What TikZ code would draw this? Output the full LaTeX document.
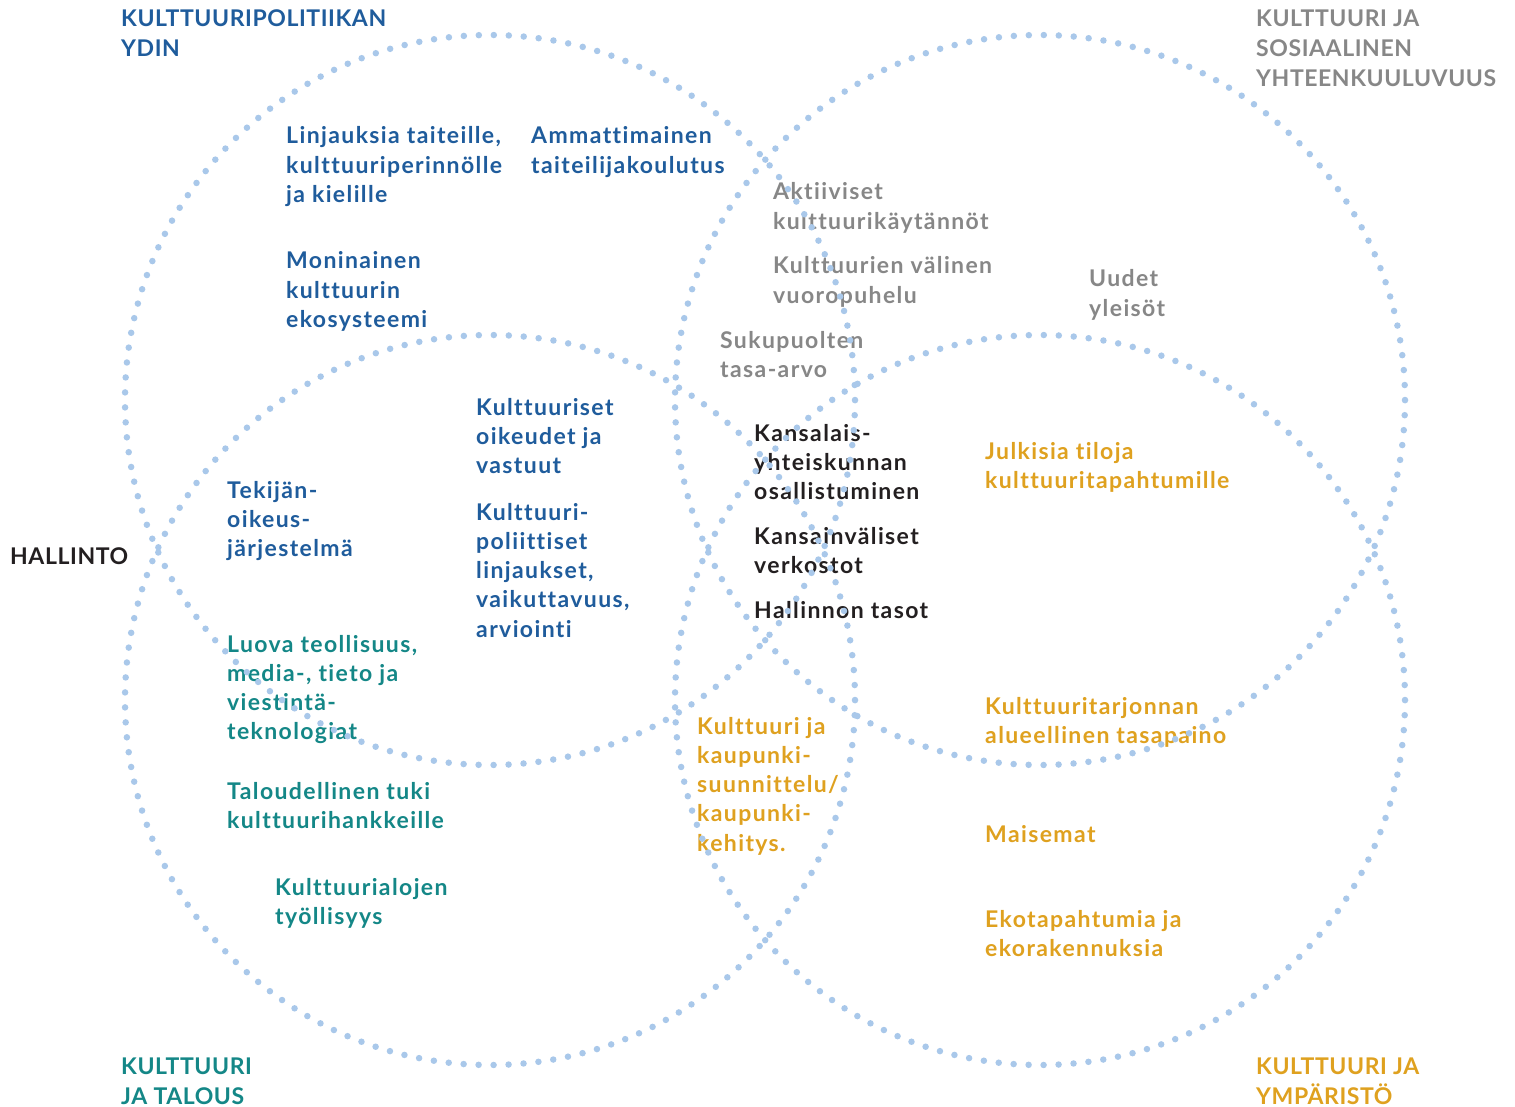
\documentclass[tikz,border=0pt]{standalone}
\usepackage{fontspec}
\setmainfont{Lato}[Ligatures=NoCommon]
\newfontfamily\bodyf{Lato}[LetterSpace=6, Ligatures=NoCommon]
\newfontfamily\hdrf{Lato}[LetterSpace=2.5, Ligatures=NoCommon]
\definecolor{cblue}{HTML}{1F5C9C}
\definecolor{cteal}{HTML}{148787}
\definecolor{corange}{HTML}{DFA11F}
\definecolor{cgray}{HTML}{878787}
\definecolor{cblack}{HTML}{231F20}
\definecolor{cdot}{HTML}{A9C8EA}
\begin{document}
\begin{tikzpicture}[x=1pt,y=-1pt,
  lbl/.style={anchor=base west, align=left, inner sep=0pt, font=\bodyf\bfseries\fontsize{23}{29.3}\selectfont},
  hdr/.style={lbl, font=\hdrf\bfseries\fontsize{23}{30}\selectfont},
  ring/.style={draw=cdot, line width=6.5pt, line cap=round, dash pattern=on 0pt off 14.99pt}]
\useasboundingbox[fill=white] (0,0) rectangle (1515,1107);
% headers (anchored at the baseline of the last line)
\node[hdr, text=cblue] (hcore) at (121,57) {KULTTUURIPOLITIIKAN\\YDIN};
\node[hdr, text=cgray] (hsoc) at (1256,87) {KULTTUURI JA\\SOSIAALINEN\\YHTEENKUULUVUUS};
\node[hdr, text=cteal] (heco) at (121,1104.5) {KULTTUURI\\JA TALOUS};
\node[hdr, text=corange] (henv) at (1256,1104.5) {KULTTUURI JA\\YMPÄRISTÖ};
\node[hdr, text=cblack] (hadm) at (10,564) {HALLINTO};
% blue
\node[lbl, text=cblue] (b1) at (286,202.6) {Linjauksia taiteille,\\kulttuuriperinnölle\\ja kielille};
\node[lbl, text=cblue] (b2) at (531,173.3) {Ammattimainen\\taiteilijakoulutus};
\node[lbl, text=cblue] (b3) at (286,327.6) {Moninainen\\kulttuurin\\ekosysteemi};
\node[lbl, text=cblue] (b4) at (476,473.6) {Kulttuuriset\\oikeudet ja\\vastuut};
\node[lbl, text=cblue] (b5) at (476,637.2) {Kulttuuri-\\poliittiset\\linjaukset,\\vaikuttavuus,\\arviointi};
\node[lbl, text=cblue] (b6) at (227,556.6) {Tekijän-\\oikeus-\\järjestelmä};
% gray
\node[lbl, text=cgray] (g1) at (773,229.3) {Aktiiviset\\kulttuurikäytännöt};
\node[lbl, text=cgray] (g2) at (773,303.3) {Kulttuurien välinen\\vuoropuhelu};
\node[lbl, text=cgray] (g3) at (1089,316.3) {Uudet\\yleisöt};
\node[lbl, text=cgray] (g4) at (720,377.3) {Sukupuolten\\tasa-arvo};
% black
\node[lbl, text=cblack] (k1) at (754,499.6) {Kansalais-\\yhteiskunnan\\osallistuminen};
\node[lbl, text=cblack] (k2) at (754,573.3) {Kansainväliset\\verkostot};
\node[lbl, text=cblack] (k3) at (754,618) {Hallinnon tasot};
% teal
\node[lbl, text=cteal] (t1) at (227,739.9) {Luova teollisuus,\\media-, tieto ja\\viestintä-\\teknologiat};
\node[lbl, text=cteal] (t2) at (227,828.3) {Taloudellinen tuki\\kulttuurihankkeille};
\node[lbl, text=cteal] (t3) at (275,924.3) {Kulttuurialojen\\työllisyys};
% orange
\node[lbl, text=corange] (o1) at (985,488.3) {Julkisia tiloja\\kulttuuritapahtumille};
\node[lbl, text=corange] (o2) at (985,743.3) {Kulttuuritarjonnan\\alueellinen tasapaino};
\node[lbl, text=corange] (o3) at (985,842) {Maisemat};
\node[lbl, text=corange] (o4) at (985,956.3) {Ekotapahtumia ja\\ekorakennuksia};
\node[lbl, text=corange] (o5) at (697,851.2) {Kulttuuri ja\\kaupunki-\\suunnittelu/\\kaupunki-\\kehitys.};
% circles
\coordinate (cTL) at (490,400);
\coordinate (cBL) at (490,700);
\coordinate (cTR) at (1040,400);
\coordinate (cBR) at (1040,700);
\foreach \c in {cTL,cBL,cTR,cBR}{\draw[ring] (\c) circle[radius=365pt];}
\end{tikzpicture}
\end{document}
